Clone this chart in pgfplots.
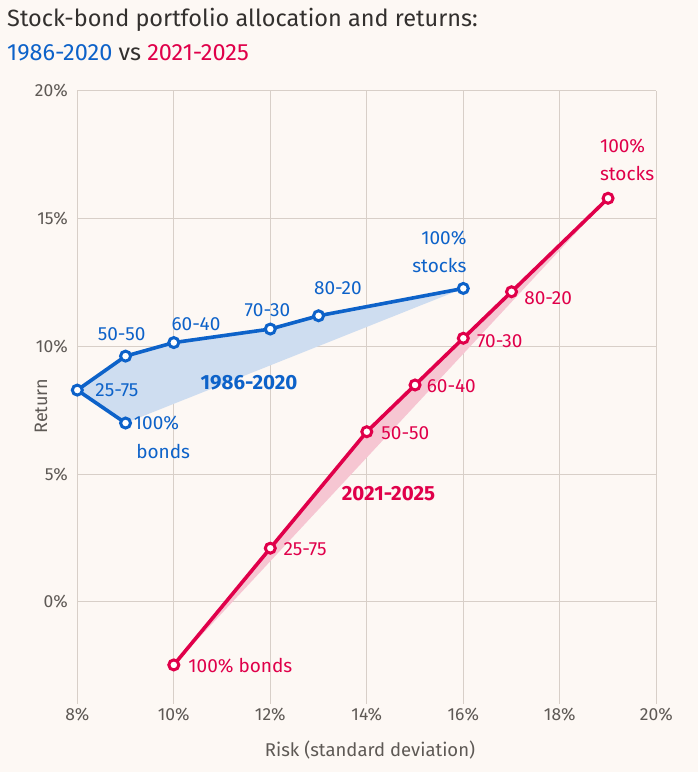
\documentclass[border=0pt]{standalone}
\usepackage{pgfplots}
\pgfplotsset{compat=1.18}
\usepackage{fontspec}
\setmainfont{Fira Sans}
\definecolor{bgc}{HTML}{FDF8F4}
\definecolor{gridc}{HTML}{D8CFC8}
\definecolor{fblue}{HTML}{0D62C9}
\definecolor{fred}{HTML}{E0004A}
\definecolor{lblue}{HTML}{CEDDF0}
\definecolor{lred}{HTML}{F6C6D2}
\definecolor{txt}{HTML}{33302E}
\definecolor{tick}{HTML}{5E5955}
\begin{document}
\begin{tikzpicture}
\fill[bgc] (0,0) rectangle (698pt,772pt);
\node[anchor=west, text=txt, font=\fontsize{23.5}{26}\selectfont, inner sep=0pt] at (7pt,752pt) {Stock-bond portfolio allocation and returns:};
\node[anchor=west, font=\fontsize{23.5}{26}\selectfont, inner sep=0pt] at (7pt,719pt) {\textcolor{fblue}{1986-2020} \textcolor{txt}{vs} \textcolor{fred}{2021-2025}};
\node[rotate=90, text=tick, font=\fontsize{18}{20}\selectfont] at (41pt,366pt) {Return};
\node[text=tick, font=\fontsize{18.5}{20}\selectfont] at (370pt,22pt) {Risk (standard deviation)};
\begin{axis}[
  at={(77.3pt,68pt)}, anchor=south west,
  scale only axis, width=579pt, height=613pt,
  xmin=8, xmax=20, ymin=-4, ymax=20,
  xtick={8,10,12,14,16,18,20},
  xticklabels={8\%,10\%,12\%,14\%,16\%,18\%,20\%},
  ytick={0,5,10,15,20},
  yticklabels={0\%,5\%,10\%,15\%,20\%},
  grid=major,
  grid style={draw=gridc, line width=1pt},
  axis line style={draw=none},
  major tick length=0pt,
  tick label style={text=tick, font=\fontsize{17.5}{19}\selectfont},
  xticklabel style={yshift=-1pt},
  yticklabel style={xshift=-6pt},
  clip=false,
]
% blue shaded area
\addplot[fill=lblue, draw=none] coordinates {(9,7.0) (8,8.29) (9,9.62) (10,10.15) (12,10.68) (13,11.2) (16,12.27)} -- cycle;
% red shaded area
\addplot[fill=lred, draw=none] coordinates {(10,-2.47) (12,2.1) (14,6.66) (15,8.49) (16,10.32) (17,12.14) (19,15.8)} -- cycle;
% blue line
\addplot[fblue, line width=3.6pt, mark=*, mark size=5pt, mark options={fill=white, draw=fblue, line width=3pt}]
  coordinates {(9,7.0) (8,8.29) (9,9.62) (10,10.15) (12,10.68) (13,11.2) (16,12.27)};
% red line
\addplot[fred, line width=3.6pt, mark=*, mark size=5pt, mark options={fill=white, draw=fred, line width=3pt}]
  coordinates {(10,-2.47) (12,2.1) (14,6.66) (15,8.49) (16,10.32) (17,12.14) (19,15.8)};
% blue labels
\begin{scope}[every node/.style={text=fblue, font=\fontsize{19}{22}\selectfont, inner sep=0pt}]
\node[anchor=west] at (axis cs:8.37,8.29) {25-75};
\node[anchor=west] at (axis cs:9.17,7.0) {100\%};
\node[anchor=west] at (axis cs:9.22,5.87) {bonds};
\node at (axis cs:8.92,10.49) {50-50};
\node at (axis cs:10.46,10.88) {60-40};
\node at (axis cs:11.94,11.4) {70-30};
\node at (axis cs:13.4,12.27) {80-20};
\node[anchor=east] at (axis cs:16.07,14.25) {100\%};
\node[anchor=east] at (axis cs:16.07,13.17) {stocks};
\node[font=\fontsize{20.5}{22}\selectfont\bfseries] at (axis cs:11.56,8.58) {1986-2020};
\end{scope}
% red labels
\begin{scope}[every node/.style={text=fred, font=\fontsize{19}{22}\selectfont, inner sep=0pt}]
\node[anchor=west] at (axis cs:10.3,-2.51) {100\% bonds};
\node[anchor=west] at (axis cs:12.27,2.06) {25-75};
\node[anchor=west] at (axis cs:14.3,6.6) {50-50};
\node[anchor=west] at (axis cs:15.24,8.46) {60-40};
\node[anchor=west] at (axis cs:16.28,10.22) {70-30};
\node[anchor=west] at (axis cs:17.26,11.9) {80-20};
\node[anchor=west] at (axis cs:18.83,17.85) {100\%};
\node[anchor=west] at (axis cs:18.83,16.78) {stocks};
\node[font=\fontsize{20.5}{22}\selectfont\bfseries] at (axis cs:14.45,4.25) {2021-2025};
\end{scope}
\end{axis}
\end{tikzpicture}
\end{document}
